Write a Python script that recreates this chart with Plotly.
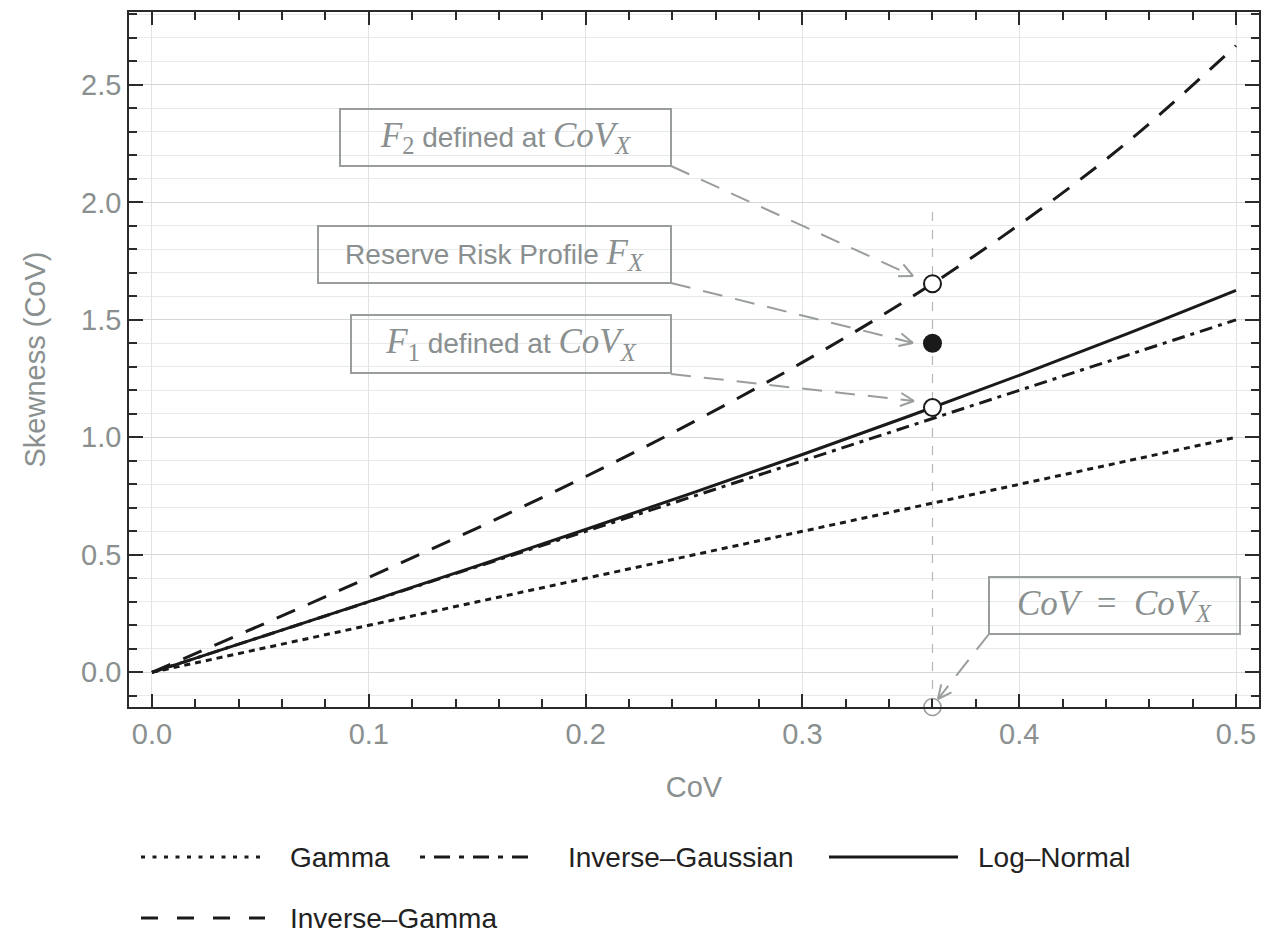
import numpy as np
import plotly.graph_objects as go

# ---- data ----
cov = [0.0, 0.05, 0.10, 0.15, 0.20, 0.25, 0.30, 0.35, 0.40, 0.45, 0.50]
gamma = [0.0, 0.10, 0.20, 0.30, 0.40, 0.50, 0.60, 0.70, 0.80, 0.90, 1.00]
inv_gauss = [0.0, 0.15, 0.30, 0.45, 0.60, 0.75, 0.90, 1.05, 1.20, 1.35, 1.50]
log_normal = [0.0, 0.150, 0.301, 0.453, 0.608, 0.766, 0.927, 1.093, 1.264, 1.441, 1.625]
inv_gamma = [0.0, 0.200, 0.404, 0.614, 0.833, 1.067, 1.319, 1.595, 1.905, 2.257, 2.667]

cov_x = 0.36
pt_f2 = 1.654
pt_fx = 1.40
pt_f1 = 1.127
vline_top = 1.97

series_names = ["Gamma", "Inverse\u2013Gaussian", "Log\u2013Normal", "Inverse\u2013Gamma"]

# ---- layout geometry (page pixels; the page body has an 8px margin) ----
PAGE_W, PAGE_H = 1282, 936
OFF = 8
W, H = PAGE_W - OFF, PAGE_H - OFF
L, R, T, B = 129, 1259, 12, 707
XR = [-0.0106, 0.5106]
YR = [-0.1475, 2.810]

def px(xp):  # page pixel x -> paper
    return (xp - L) / (R - L)

def py(yp):  # page pixel y -> paper
    return (B - yp) / (B - T)

INK = "#1a1a1a"
GRAY = "#8a8f8f"
BOXC = "#9a9d9d"

fig = go.Figure()

# vertical dashed guide
fig.add_shape(type="line", xref="x", yref="y", x0=cov_x, x1=cov_x, y0=YR[0], y1=vline_top,
              line=dict(color="#b5b8b8", width=1.2, dash="9px,9px"), layer="between")

styles = {
    "Gamma": "6px,5px",
    "Inverse\u2013Gaussian": "13px,6px,4px,6px",
    "Log\u2013Normal": "solid",
    "Inverse\u2013Gamma": "20px,14px",
}
ys = [gamma, inv_gauss, log_normal, inv_gamma]
for name, y in zip(series_names, ys):
    fig.add_trace(go.Scatter(x=cov, y=y, mode="lines", name=name, showlegend=False,
                             line=dict(color=INK, width=3, dash=styles[name], shape="spline")))

# points
fig.add_trace(go.Scatter(x=[cov_x, cov_x], y=[pt_f2, pt_f1], mode="markers", showlegend=False,
                         marker=dict(symbol="circle", size=17, color="white",
                                     line=dict(color=INK, width=2))))
fig.add_trace(go.Scatter(x=[cov_x], y=[pt_fx], mode="markers", showlegend=False,
                         marker=dict(symbol="circle", size=19, color=INK)))
fig.add_trace(go.Scatter(x=[cov_x], y=[YR[0]], mode="markers", showlegend=False, cliponaxis=False,
                         marker=dict(symbol="circle", size=17, color="rgba(255,255,255,0)",
                                     line=dict(color="#999c9c", width=1.6))))

# ---- callout boxes ----
SERIF = "font-family:Liberation Serif;font-size:35px"
def m(s):
    return f'<span style="{SERIF}">{s}</span>'

boxes = [
    (m("<i>F</i><sub>2</sub>") + " defined at " + m("<i>CoV</i><sub><i>X</i></sub>"), 340, 671, 109, 166),
    ("Reserve Risk Profile " + m("<i>F</i><sub><i>X</i></sub>"), 318, 671, 226, 283),
    (m("<i>F</i><sub>1</sub>") + " defined at " + m("<i>CoV</i><sub><i>X</i></sub>"), 351, 671, 315, 373),
    (m("<i>CoV</i>&nbsp; = &nbsp;<i>CoV</i><sub><i>X</i></sub>"), 989, 1240, 577, 634),
]
for text, x0, x1, y0, y1 in boxes:
    fig.add_annotation(xref="paper", yref="paper", x=px((x0 + x1) / 2), y=py((y0 + y1) / 2),
                       xanchor="center", yanchor="middle", text=text, showarrow=False,
                       width=x1 - x0 - 2, height=y1 - y0 - 2, borderpad=0, borderwidth=2,
                       bordercolor=BOXC, bgcolor="rgba(0,0,0,0)",
                       font=dict(family="Liberation Sans", size=28, color=GRAY))

# ---- dashed arrows ----
arrows = [
    ((671, 166), (913, 276)),
    ((671, 283), (913, 343)),
    ((671, 374), (914, 401)),
    ((989, 634), (938, 699)),
]
for (tx, ty), (hx, hy) in arrows:
    fig.add_shape(type="line", xref="paper", yref="paper", x0=px(tx), y0=py(ty), x1=px(hx), y1=py(hy),
                  line=dict(color=BOXC, width=2, dash="20px,13px"), layer="above")
    d = np.array([hx - tx, hy - ty], dtype=float)
    d /= np.linalg.norm(d)
    for ang in (0.45, -0.45):
        c, s = np.cos(ang), np.sin(ang)
        back = np.array([-(c * d[0] - s * d[1]), -(s * d[0] + c * d[1])]) * 15
        fig.add_shape(type="line", xref="paper", yref="paper", x0=px(hx), y0=py(hy),
                      x1=px(hx + back[0]), y1=py(hy + back[1]),
                      line=dict(color=BOXC, width=2), layer="above")

# ---- legend (drawn manually to match long samples) ----
legend_items = [
    ("Gamma", 141, 265, 288, 857, "4px,7.5px"),
    ("Inverse\u2013Gaussian", 420, 536, 566, 857, "5px,9px,16px,9px"),
    ("Log\u2013Normal", 829, 958, 976, 857, "solid"),
    ("Inverse\u2013Gamma", 141, 265, 288, 918, "17px,19px"),
]
for name, lx0, lx1, tx, ly, dash in legend_items:
    fig.add_shape(type="line", xref="paper", yref="paper", x0=px(lx0), x1=px(lx1), y0=py(ly), y1=py(ly),
                  line=dict(color=INK, width=3, dash=dash))
    fig.add_annotation(xref="paper", yref="paper", x=px(tx), y=py(ly), xanchor="left", yanchor="middle",
                       text=name, showarrow=False, font=dict(family="Liberation Sans", size=28, color="#222222"))

axis_common = dict(showline=True, linecolor="#2a2a2a", linewidth=1.5, mirror="ticks",
                   ticks="inside", tickcolor="#2a2a2a", tickwidth=1.5, zeroline=False,
                   tickfont=dict(family="Liberation Sans", size=29, color=GRAY))

fig.update_xaxes(range=XR, dtick=0.1, tick0=0, ticklen=13, tickformat=".1f",
                 showgrid=True, gridcolor="#dfe3e3", gridwidth=1.2,
                 minor=dict(dtick=0.02, tick0=0, ticks="inside", ticklen=8, tickcolor="#2a2a2a",
                            tickwidth=1.5, showgrid=False),
                 title=dict(text="CoV", font=dict(family="Liberation Sans", size=29, color=GRAY), standoff=28),
                 **axis_common)
fig.update_yaxes(range=YR, dtick=0.5, tick0=0, ticklen=14, tickformat=".1f",
                 showgrid=True, gridcolor="#d3d8d8", gridwidth=1.2,
                 minor=dict(dtick=0.1, tick0=0, ticks="inside", ticklen=8, tickcolor="#2a2a2a",
                            tickwidth=1.5, showgrid=True, gridcolor="#e7eaea", gridwidth=1.2),
                 title=dict(text="Skewness (CoV)", font=dict(family="Liberation Sans", size=29, color=GRAY),
                            standoff=27),
                 **axis_common)

fig.update_layout(width=W, height=H,
                  margin=dict(l=L - OFF, r=PAGE_W - R, t=T - OFF, b=PAGE_H - B, autoexpand=False),
                  plot_bgcolor="white", paper_bgcolor="white", showlegend=False)

fig.write_html("out.html")
